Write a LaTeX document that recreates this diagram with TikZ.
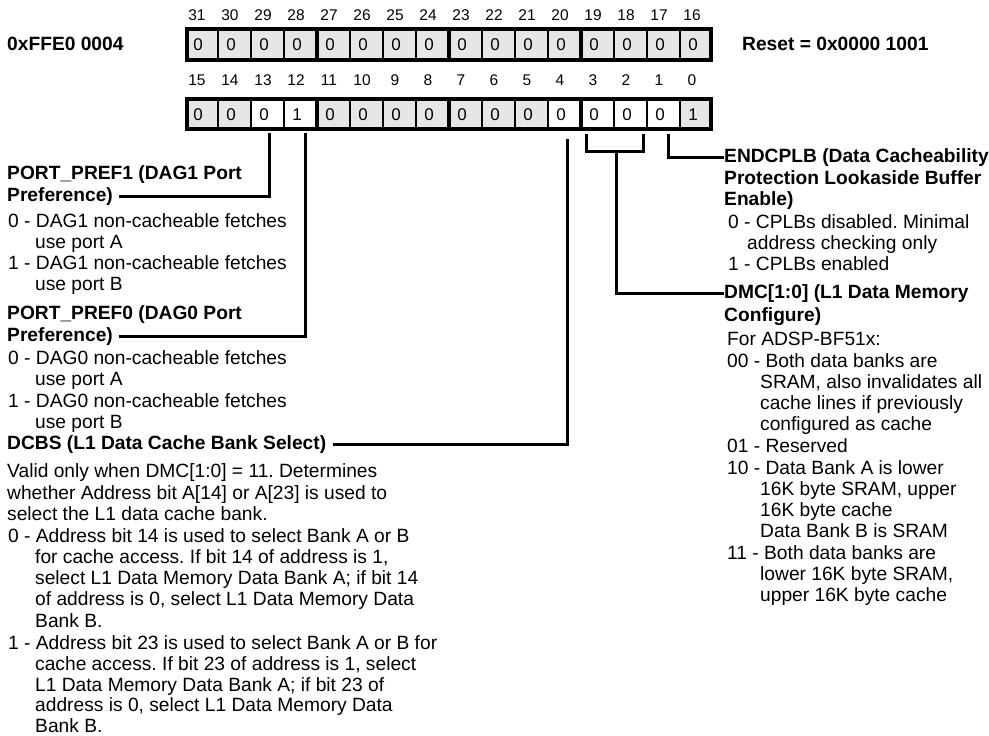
\documentclass[tikz,border=0pt]{standalone}
\usepackage{fontspec}
\setmainfont{Liberation Sans}
\definecolor{cellgray}{RGB}{230,230,230}
\frenchspacing
\begin{document}
\frenchspacing
\begin{tikzpicture}[x=1pt,y=-1pt,
  tx/.style={anchor=base west,inner sep=0pt,font=\fontsize{19.2}{21.2}\selectfont},
  hd/.style={anchor=base west,inner sep=0pt,font=\fontsize{19.2}{21.2}\selectfont\bfseries},
  bitlbl/.style={anchor=base,inner sep=0pt,font=\fontsize{15.5}{18}\selectfont},
  digit/.style={anchor=base,inner sep=0pt,font=\fontsize{17}{18}\selectfont},
  conn/.style={line width=3pt,line join=miter},
  thinsep/.style={line width=2.6pt},
  nibsep/.style={line width=4.2pt}]
\useasboundingbox (0,0) rectangle (989,736);

% ---- register cells ----
\foreach \k in {0,...,15} {
  \fill[cellgray] (185+33*\k,27) rectangle (218+33*\k,62);
  \fill[cellgray] (185+33*\k,97) rectangle (218+33*\k,131);
}
\foreach \k in {2,3,11,12,13,14}
  \fill[white] (185+33*\k,97) rectangle (218+33*\k,131);
\foreach \k in {1,2,3,5,6,7,9,10,11,13,14,15} {
  \draw[thinsep] (185+33*\k,27) -- (185+33*\k,62);
  \draw[thinsep] (185+33*\k,97) -- (185+33*\k,131);
}
\foreach \k in {4,8,12} {
  \draw[nibsep] (185+33*\k,27) -- (185+33*\k,62);
  \draw[nibsep] (185+33*\k,97) -- (185+33*\k,131);
}
\draw[nibsep] (187,29) rectangle (711,60);
\draw[nibsep] (187,99) rectangle (711,129);

% ---- digits and bit numbers ----
\foreach \k [evaluate=\k as \bt using int(31-\k)] in {0,...,15} {
  \node[digit] (t\bt) at (198+33*\k,50.5) {0};
  \node[bitlbl] (nt\bt) at (197+33*\k,20.5) {\bt};
}
\foreach \k [evaluate=\k as \bt using int(15-\k)] in {0,...,15} {
  \ifnum\bt=12 \def\vv{1}\else\ifnum\bt=0 \def\vv{1}\else\def\vv{0}\fi\fi
  \node[digit] (b\bt) at (198+33*\k,120.5) {\vv};
  \node[bitlbl] (nb\bt) at (197+33*\k,85.5) {\bt};
}

% ---- titles ----
\node[hd] (addr) at (7,50.5) {0xFFE0 0004};
\node[hd] (reset) at (742,50.5) {Reset = 0x0000 1001};

% ---- left column ----
\node[hd] (pp1a) at (7,179) {PORT\_PREF1 (DAG1 Port};
\node[hd] (pp1) at (7,201) {Preference)};
\node[tx] (l1) at (8,227) {0 - DAG1 non-cacheable fetches};
\node[tx] (l2) at (35,248) {use port A};
\node[tx] (l3) at (8,269) {1 - DAG1 non-cacheable fetches};
\node[tx] (l4) at (35,290) {use port B};
\node[hd] (pp0a) at (7,319) {PORT\_PREF0 (DAG0 Port};
\node[hd] (pp0) at (7,341) {Preference)};
\node[tx] (l5) at (8,364) {0 - DAG0 non-cacheable fetches};
\node[tx] (l6) at (35,385) {use port A};
\node[tx] (l7) at (8,407) {1 - DAG0 non-cacheable fetches};
\node[tx] (l8) at (35,428) {use port B};
\node[hd] (dcbs) at (7,449) {DCBS (L1 Data Cache Bank Select)};
\node[tx] (l9) at (7,477) {Valid only when DMC[1:0] = 11. Determines};
\node[tx] (l10) at (7,499) {whether Address bit A[14] or A[23] is used to};
\node[tx] (l11) at (7,520) {select the L1 data cache bank.};
\node[tx] (l12) at (8,542) {0 - Address bit 14 is used to select Bank A or B};
\node[tx] (l13) at (35,563) {for cache access. If bit 14 of address is 1,};
\node[tx] (l14) at (35,584) {select L1 Data Memory Data Bank A; if bit 14};
\node[tx] (l15) at (35,605) {of address is 0, select L1 Data Memory Data};
\node[tx] (l16) at (35,627) {Bank B.};
\node[tx] (l17) at (8,649) {1 - Address bit 23 is used to select Bank A or B for};
\node[tx] (l18) at (35,670) {cache access. If bit 23 of address is 1, select};
\node[tx] (l19) at (35,691) {L1 Data Memory Data Bank A; if bit 23 of};
\node[tx] (l20) at (35,711) {address is 0, select L1 Data Memory Data};
\node[tx] (l21) at (35,732) {Bank B.};

% ---- right column ----
\node[hd] (endc) at (724,162) {ENDCPLB (Data Cacheability};
\node[hd] (endc2) at (724,184) {Protection Lookaside Buffer};
\node[hd] (endc3) at (724,205) {Enable)};
\node[tx] (r1) at (728,228) {0 - CPLBs disabled. Minimal};
\node[tx] (r2) at (747,249) {address checking only};
\node[tx] (r3) at (728,270) {1 - CPLBs enabled};
\node[hd] (dmc) at (724,298.5) {DMC[1:0] (L1 Data Memory};
\node[hd] (dmc2) at (724,321) {Configure)};
\node[tx] (r4) at (727,345) {For ADSP-BF51x:};
\node[tx] (r5) at (727,367) {00 - Both data banks are};
\node[tx] (r6) at (760,388) {SRAM, also invalidates all};
\node[tx] (r7) at (760,409) {cache lines if previously};
\node[tx] (r8) at (760,430) {configured as cache};
\node[tx] (r9) at (727,452) {01 - Reserved};
\node[tx] (r10) at (727,474) {10 - Data Bank A is lower};
\node[tx] (r11) at (760,495) {16K byte SRAM, upper};
\node[tx] (r12) at (760,516) {16K byte cache};
\node[tx] (r13) at (760,537) {Data Bank B is SRAM};
\node[tx] (r14) at (727,559) {11 - Both data banks are};
\node[tx] (r15) at (760,580) {lower 16K byte SRAM,};
\node[tx] (r16) at (760,601) {upper 16K byte cache};

% ---- connectors ----
\coordinate (s13) at (269,133);
\coordinate (s12) at (305,133);
\coordinate (s4) at (567,139);
\coordinate (s3) at (586,134);
\coordinate (s2) at (643,134);
\coordinate (bm) at (616,151);
\coordinate (s1) at (668,134);
\draw[conn] (s13) |- ([xshift=6pt]pp1.east);
\draw[conn] (s12) |- ([xshift=6pt]pp0.east);
\draw[conn] (s4) |- ([xshift=7pt]dcbs.east);
\draw[conn] (s3) |- (bm) -| (s2);
\draw[conn] (bm) |- (dmc.west);
\draw[conn] (s1) |- (endc.west);
\end{tikzpicture}
\end{document}
